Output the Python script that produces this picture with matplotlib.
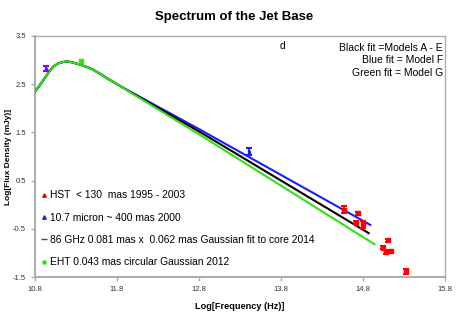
import matplotlib as mpl
import matplotlib.pyplot as plt
from matplotlib.lines import Line2D

mpl.rcParams['font.family'] = ['Liberation Sans', 'DejaVu Sans']

# ---- data (log10 frequency [Hz], log10 flux [mJy]) ----
hst_x = [14.57, 14.74, 14.71, 14.80, 15.11, 15.05, 15.08, 15.14, 15.32]
hst_y = [-0.10, -0.18, -0.37, -0.41, -0.74, -0.89, -0.99, -0.96, -1.38]
hst_err = [0.07, 0.03, 0.04, 0.07, 0.03, 0.03, 0.04, 0.03, 0.05]

ir_x = [13.41]
ir_y = [1.10]
ir_err = [0.07]

mm_x = [10.93]
mm_y = [2.82]
mm_err = [0.05]

eht_x = [11.36]
eht_y = [2.98]

# fitted model curves (shared rise up to the turnover)
rise_x = [10.79, 10.85, 10.90, 10.96, 11.02, 11.08, 11.14, 11.18, 11.22,
          11.26, 11.30, 11.35, 11.40, 11.45, 11.50, 11.60, 11.70, 11.85]
rise_y = [2.32, 2.46, 2.58, 2.73, 2.86, 2.93, 2.96, 2.97, 2.965,
          2.95, 2.93, 2.905, 2.875, 2.845, 2.81, 2.71, 2.60, 2.45]
black_x = rise_x + [12.00, 12.81, 14.87]
black_y = rise_y + [2.30, 1.51, -0.59]
blue_x = rise_x + [12.00, 12.81, 14.89]
blue_y = rise_y + [2.31, 1.56, -0.42]
green_x = rise_x + [12.00, 12.81, 14.94]
green_y = rise_y + [2.29, 1.45, -0.82]

xticks = [10.8, 11.8, 12.8, 13.8, 14.8, 15.8]
yticks = [-1.5, -0.5, 0.5, 1.5, 2.5, 3.5]

labels = ['HST  < 130  mas 1995 - 2003',
          '10.7 micron ~ 400 mas 2000',
          '86 GHz 0.081 mas x  0.062 mas Gaussian fit to core 2014',
          'EHT 0.043 mas circular Gaussian 2012']

c_red = '#ff0000'
c_blue = '#1c1cff'
c_purple = '#8a00ff'
c_green = '#33e014'
c_grid = '#a8b0b0'

fig = plt.figure(figsize=(4.57, 3.13), dpi=100)
ax = fig.add_axes([0.0766, 0.115, 0.8971, 0.770])

ax.plot(blue_x, blue_y, color=c_blue, lw=1.5, zorder=2)
ax.plot(black_x, black_y, color='black', lw=1.5, zorder=3)
ax.plot(green_x, green_y, color=c_green, lw=1.5, zorder=4)

ax.errorbar(hst_x, hst_y, yerr=hst_err, fmt='s', ms=2.5, color=c_red,
            ecolor=c_red, elinewidth=1.5, capsize=2.5, capthick=1.5, zorder=5)
ax.errorbar(ir_x, ir_y, yerr=ir_err, fmt='s', ms=2, color=c_blue,
            ecolor=c_blue, elinewidth=1.5, capsize=2.5, capthick=1.5, zorder=5)
ax.errorbar(mm_x, mm_y, yerr=mm_err, fmt='s', ms=2, color=c_purple,
            ecolor=c_purple, elinewidth=1.5, capsize=2.5, capthick=1.5, zorder=5)
ax.plot(eht_x, eht_y, 's', ms=3.5, color=c_green, zorder=5)

ax.set_xlim(10.8, 15.8)
ax.set_ylim(-1.5, 3.5)
ax.set_xticks(xticks)
ax.set_yticks(yticks)
ax.set_xticklabels([f'{v:.1f}' for v in xticks])
ax.set_yticklabels([f'{v:.1f}' for v in yticks])
ax.tick_params(labelsize=5.5, labelcolor='#333333', color=c_grid, length=3,
               width=1)
for s in ax.spines.values():
    s.set_color(c_grid)
    s.set_linewidth(1)
ax.spines['left'].set_linewidth(1.5)
ax.spines['bottom'].set_linewidth(1.5)

ax.set_xlabel('Log[Frequency (Hz)]', fontsize=6.6, fontweight='bold')
ax.xaxis.set_label_coords(0.5, -0.105)
ax.set_ylabel('Log[Flux Density (mJy)]', fontsize=6, fontweight='bold')
ax.yaxis.set_label_coords(-0.056, 0.5)
fig.suptitle('Spectrum of the Jet Base', x=0.512, y=0.965, fontsize=9.5,
             fontweight='bold')

ax.text(0.597, 0.96, 'd', transform=ax.transAxes, fontsize=7.3, va='center')
ax.text(0.995, 0.972, 'Black fit =Models A - E\nBlue fit = Model F\nGreen fit = Model G',
        transform=ax.transAxes, fontsize=7.5, ha='right', va='top',
        linespacing=1.3)

handles = [Line2D([], [], ls='', marker='^', ms=2.5, color=c_red),
           Line2D([], [], ls='', marker='^', ms=2.5, color=c_blue),
           Line2D([], [], ls='', marker='_', ms=4, mew=1, color=c_purple),
           Line2D([], [], ls='', marker='D', ms=2, color=c_green)]
ax.legend(handles, labels, loc='lower left', bbox_to_anchor=(0.0, 0.015),
          frameon=False, fontsize=7.4, handlelength=0.6, handletextpad=0.3,
          labelspacing=1.2, borderaxespad=0.2)

plt.savefig('out.png', dpi=100)
